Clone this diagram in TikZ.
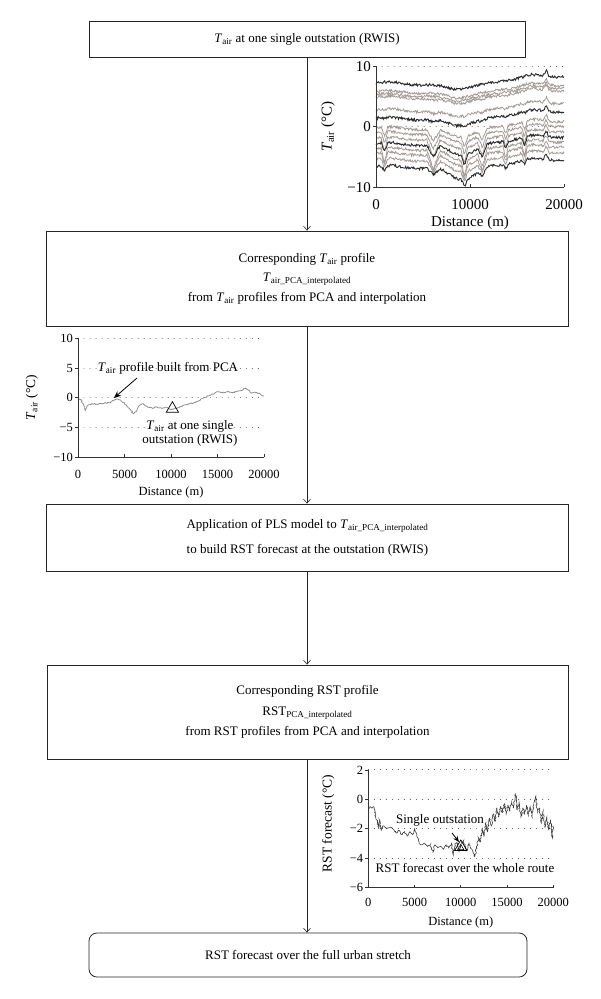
\documentclass[tikz,border=0pt]{standalone}
\usepackage{fontspec}
\setmainfont{Liberation Serif}
\usetikzlibrary{arrows.meta,decorations.pathmorphing,shapes.geometric}
\newcommand{\Tair}{\textit{T}\textsubscript{air}}
\definecolor{dkline}{HTML}{2B2B2B}
\definecolor{ltline}{HTML}{A39A95}
\definecolor{pcaline}{HTML}{8F8F8F}
\definecolor{rstline}{HTML}{3A3A3A}
\tikzset{
  flowbox/.style={draw=black!85, line width=0.8pt, inner sep=0pt, align=center},
  flow/.style={-{Straight Barb[length=4pt,width=7pt]}, line width=0.6pt, black!85},
  axisline/.style={line width=0.8pt, black!80},
  griddot/.style={line width=0.9pt, dash pattern=on 0.01pt off 6pt, line cap=round, black!75},
  ticklab/.style={font=\fontsize{12.5}{14}\selectfont, inner sep=1pt},
  bigticklab/.style={font=\fontsize{15}{17}\selectfont, inner sep=1pt},
  annot/.style={font=\fontsize{13}{14}\selectfont, inner sep=1pt, align=center},
  tri/.style={draw=black, line width=0.7pt, regular polygon, regular polygon sides=3, minimum size=14pt, inner sep=0pt},
  dkcurve/.style={dkline, line width=0.9pt},
  ltcurve/.style={ltline, line width=0.8pt},
}
\begin{document}
\begin{tikzpicture}[x=1pt,y=-1pt,
  declare function={
    trendA(\x)=-0.9*max(0,1-abs(\x-8.5)/5)+1.2*min(1,max(0,(\x-11.5)/5))+1.0*max(0,1-abs(\x-18.1)/0.3)+0.2*sin(\x*70);
    lowA(\x)=-1.2*max(0,1-abs(\x-9.5)/2.5);
    dipA(\x)=max(0,1-abs(\x-0.9)/0.35)+1.2*max(0,1-abs(\x-6.1)/0.7)+max(0,1-abs(\x-9.4)/0.35)+max(0,1-abs(\x-11.3)/0.5)+0.8*max(0,1-abs(\x-13.8)/0.3)+0.9*max(0,1-abs(\x-15.8)/0.3);
  }]
\useasboundingbox (0,0) rectangle (600,999);

% ---------------- flow boxes ----------------
\node[flowbox, minimum width=436pt, minimum height=36pt, font=\fontsize{13}{16}\selectfont] (b1) at (307,39)
  {\Tair{} at one single outstation (RWIS)};
\node[flowbox, minimum width=522pt, minimum height=95pt, font=\fontsize{13}{19.5}\selectfont] (b2) at (307,278.5)
  {Corresponding \Tair{} profile\\ \textit{T}\textsubscript{air\_PCA\_interpolated}\\ from \Tair{} profiles from PCA and interpolation};
\node[flowbox, minimum width=522pt, minimum height=67pt, font=\fontsize{13}{25}\selectfont] (b3) at (307.5,537.5)
  {Application of PLS model to \textit{T}\textsubscript{air\_PCA\_interpolated}\\ to build RST forecast at the outstation (RWIS)};
\node[flowbox, minimum width=521pt, minimum height=94pt, font=\fontsize{13}{20.5}\selectfont] (b4) at (307.5,712)
  {Corresponding RST profile\\ RST\textsubscript{PCA\_interpolated}\\ from RST profiles from PCA and interpolation};
\node[flowbox, rounded corners=8pt, minimum width=438pt, minimum height=44pt, font=\fontsize{13}{16}\selectfont] (b5) at (308,955)
  {RST forecast over the full urban stretch};

\draw[flow] (b1.south -| 307,0) -- (b2.north -| 307,0);
\draw[flow] (b2.south -| 307,0) -- (b3.north -| 307,0);
\draw[flow] (b3.south -| 307,0) -- (b4.north -| 307,0);
\draw[flow] (b4.south -| 307,0) -- (b5.north -| 307,0);

% ---------------- chart 1 : Tair profiles ----------------
\begin{scope}[shift={(376,126.7)}, x=9.4pt, y=6.05pt]
  \draw[griddot] (0,10) -- (20.3,10);
  \draw[griddot] (0,0) -- (20.3,0);
  \pgfmathsetseed{4711}
  \foreach \off/\sty/\dp/\lw in {7.2/dkcurve/0/0, 5.8/ltcurve/0/0, 5.3/ltcurve/0/0, 4.9/ltcurve/0.2/0, 2.8/ltcurve/0.3/0, 1.4/dkcurve/0.3/0.2,
      -0.2/ltcurve/1.6/0.5, -1.0/ltcurve/2.0/0.6, -1.9/ltcurve/2.4/0.8, -2.8/dkcurve/1.6/0.9, -3.6/ltcurve/2.6/1.0, -4.4/ltcurve/2.2/1.1, -5.4/ltcurve/1.6/1.1, -6.6/dkcurve/0.9/1.2}
    \draw[\sty] plot[domain=0:20, samples=260] (\x, {\off+trendA(\x)+\lw*lowA(\x)-\dp*dipA(\x)+0.22*rand});
  \draw[axisline] (0,10) -- (0,-10) -- (20,-10);
  \foreach \v in {10,0,-10} \draw[axisline] (0,\v) -- ++(-3pt,0);
  \foreach \d in {10,20} \draw[axisline] (\d,-10) -- ++(0,3pt);
  \node[bigticklab, anchor=east] (c1y1) at ([xshift=-4pt]0,10) {10};
  \node[bigticklab, anchor=east] (c1y2) at ([xshift=-4pt]0,0) {0};
  \node[bigticklab, anchor=east] (c1y3) at ([xshift=-4pt]0,-10) {−10};
  \node[bigticklab] (c1x1) at ([yshift=-17pt]0,-10) {0};
  \node[bigticklab] (c1x2) at ([yshift=-17pt]10,-10) {10000};
  \node[bigticklab] (c1x3) at ([yshift=-17pt]20,-10) {20000};
  \node[bigticklab] (c1xl) at ([yshift=-36pt]10,-10) {Distance (m)};
  \node[bigticklab, rotate=90] (c1yl) at ([xshift=-48pt]0,0) {\Tair{} (°C)};
\end{scope}

% ---------------- chart 2 : PCA profile ----------------
\begin{scope}[shift={(78,397.7)}, x=9.3pt, y=5.93pt]
  \foreach \v in {10,5,0,-5} \draw[griddot] (0,\v) -- (20,\v);
  \pgfmathsetseed{99}
  \draw[pcaline, line width=0.8pt, decorate, decoration={random steps, segment length=1.3pt, amplitude=0.6pt}]
    plot coordinates {(0,0) (0.3,-0.3) (0.6,-1.2) (0.8,-2.2) (1.0,-1.3) (1.5,-1.0) (2,-1.1) (2.5,-1.0) (3,-0.9) (3.5,-0.8)
      (3.8,-0.5) (4.2,-0.2) (4.6,-0.4) (5,-1.0) (5.5,-1.8) (6,-2.7) (6.3,-2.3) (6.6,-1.3) (7,-1.0) (7.5,-1.6) (8,-1.8) (8.5,-1.6)
      (9,-1.8) (9.5,-1.6) (10,-2.0) (10.5,-1.8) (11,-1.5) (11.5,-1.2) (12,-1.0) (12.5,-0.8) (13,-0.5) (13.5,0) (14,0.3) (14.5,0.6)
      (15,1.0) (15.5,0.8) (16,1.0) (16.5,0.9) (17,1.0) (17.5,1.2) (18,1.6) (18.3,1.3) (18.7,0.8) (19.2,0.9) (19.6,0.6) (20,0.3)};
  \draw[axisline] (0,10) -- (0,-10) -- (20,-10);
  \foreach \v in {10,5,0,-5,-10} \draw[axisline] (0,\v) -- ++(-3pt,0);
  \foreach \d in {5,10,15,20} \draw[axisline] (\d,-10) -- ++(0,3pt);
  \foreach \v/\t [count=\i] in {10/10,5/5,0/0,-5/−5,-10/−10}
    \node[ticklab, anchor=east] (c2y\i) at ([xshift=-4pt]0,\v) {\t};
  \foreach \d/\t [count=\i] in {0/0,5/5000,10/10000,15/15000,20/20000}
    \node[ticklab] (c2x\i) at ([yshift=-17pt]\d,-10) {\t};
  \node[ticklab] (c2xl) at ([yshift=-35pt]10,-10) {Distance (m)};
  \node[ticklab, font=\fontsize{13.5}{15}\selectfont, rotate=90] (c2yl) at ([xshift=-46pt]0,0) {\Tair{} (°C)};
  \node[tri] (c2tri) at (10.15,-1.85) {};
  \node[annot] (c2lab1) at (9.68,5.0) {\Tair{} profile built from PCA};
  \node[annot, font=\fontsize{13}{14}\selectfont] (c2lab2) at (12.04,-5.95) {\Tair{} at one single\\ outstation (RWIS)};
  \coordinate (c2pt) at (3.87,-0.05);
  \coordinate (c2st) at (6.34,3.32);
  \draw[-{Stealth[length=7pt,width=6pt]}, line width=0.8pt] (c2st) -- (c2pt);
\end{scope}

% ---------------- chart 3 : RST forecast ----------------
\begin{scope}[shift={(368.3,799.3)}, x=9.25pt, y=14.7pt]
  \foreach \v in {2,0,-2,-4} \draw[griddot] (0,\v) -- (20,\v);
  \pgfmathsetseed{321}
  \draw[rstline, line width=0.6pt, decorate, decoration={random steps, segment length=1.2pt, amplitude=0.7pt}]
    plot coordinates {(0,-0.7) (0.2,-0.5) (0.4,-0.6) (0.6,-0.5) (0.8,-1.2) (1.0,-1.6) (1.1,-2.0) (1.2,-1.4) (1.4,-2.1) (1.6,-1.8)
      (1.8,-1.9) (2.0,-2.0) (2.4,-1.9) (2.8,-2.1) (3.0,-2.3) (3.3,-2.1) (3.6,-2.4) (3.9,-2.2) (4.2,-2.5) (4.5,-2.2) (4.8,-2.4)
      (5.0,-2.0) (5.3,-2.6) (5.5,-3.0) (5.8,-3.1) (6.1,-3.0) (6.4,-3.2) (6.7,-3.1) (7.0,-3.6) (7.2,-3.1) (7.5,-3.3) (7.8,-3.2)
      (8.1,-3.4) (8.4,-3.1) (8.7,-3.3) (9.0,-3.0) (9.2,-3.8) (9.4,-3.0) (9.6,-2.9) (9.8,-3.6) (10.0,-3.1) (10.3,-2.8) (10.6,-3.5)
      (10.9,-3.0) (11.2,-3.4) (11.5,-3.9) (11.7,-3.3) (11.9,-2.6) (12.1,-2.9) (12.3,-2.0) (12.5,-2.5) (12.7,-1.6) (12.9,-2.2)
      (13.1,-1.3) (13.3,-1.8) (13.5,-1.0) (13.7,-1.5) (13.9,-0.6) (14.1,-1.2) (14.3,-0.5) (14.5,-0.9) (14.7,-0.3) (14.9,-1.0)
      (15.1,-0.4) (15.3,-0.8) (15.5,-0.2) (15.7,-0.6) (15.9,0.4) (16.1,-0.7) (16.3,-0.2) (16.5,-1.2) (16.7,-0.6) (16.9,-1.0)
      (17.1,-0.4) (17.3,-1.1) (17.5,-0.5) (17.7,-1.2) (17.9,-0.3) (18.1,0.2) (18.3,-0.9) (18.5,-0.6) (18.7,-1.6) (18.9,-0.8)
      (19.1,-1.9) (19.3,-1.2) (19.5,-2.1) (19.7,-1.4) (19.9,-2.7) (20.0,-1.8)};
  \draw[axisline] (0,2) -- (0,-6) -- (20,-6);
  \foreach \v in {2,0,-2,-4,-6} \draw[axisline] (0,\v) -- ++(-3pt,0);
  \foreach \d in {5,10,15,20} \draw[axisline] (\d,-6) -- ++(0,3pt);
  \foreach \v/\t [count=\i] in {2/2,0/0,-2/−2,-4/−4,-6/−6}
    \node[ticklab, anchor=east] (c3y\i) at ([xshift=-4pt]0,\v) {\t};
  \foreach \d/\t [count=\i] in {0/0,5/5000,10/10000,15/15000,20/20000}
    \node[ticklab] (c3x\i) at ([yshift=-15pt]\d,-6) {\t};
  \node[ticklab] (c3xl) at ([yshift=-35pt]10,-6) {Distance (m)};
  \node[ticklab, font=\fontsize{13.5}{15}\selectfont, rotate=90] (c3yl) at ([xshift=-40pt]0,-1.65) {RST forecast (°C)};
  \node[tri] (c3tri) at (10.0,-3.24) {};
  \node[tri, minimum size=7pt, line width=0.5pt] (c3tri2) at (10.0,-3.3) {};
  \node[annot] (c3lab1) at (7.75,-1.41) {Single outstation};
  \node[annot] (c3lab2) at (10.45,-4.67) {RST forecast over the whole route};
  \coordinate (c3pt) at (9.8,-2.9);
  \coordinate (c3st) at (9.05,-2.29);
  \draw[-{Stealth[length=6pt,width=5pt]}, line width=0.8pt] (c3st) -- (c3pt);
\end{scope}
\end{tikzpicture}
\end{document}
